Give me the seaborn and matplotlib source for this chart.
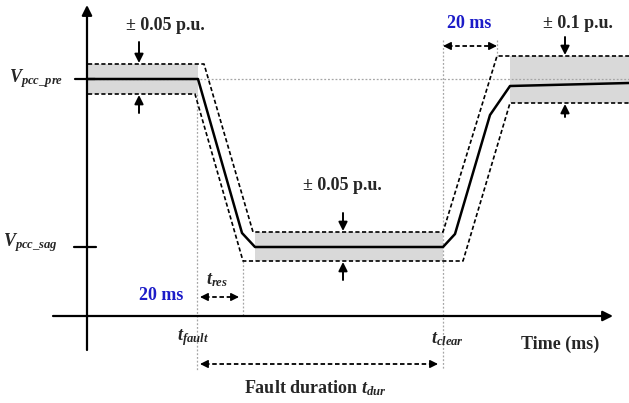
import matplotlib
matplotlib.use("Agg")
import matplotlib.pyplot as plt
import seaborn as sns
import numpy as np

# ---------------------------------------------------------
# schematic values (time units / voltage units, origin at axis crossing)
# ---------------------------------------------------------
t_main = [0, 111, 155, 168, 356, 368, 403, 423, 542]
v_main = [237, 237, 83, 69, 69, 82, 201, 230, 233]

t_upper = [1, 117, 166, 356, 410, 542]
v_upper = [252, 252, 84, 84, 260, 260]

t_lower = [1, 108, 156, 376, 423, 542]
v_lower = [222, 222, 55, 55, 213, 213]

# shaded tolerance bands: (t_start, t_end, v_low, v_high)
bands_t0 = [0, 168, 423]
bands_t1 = [111, 356, 542]
bands_lo = [222, 55, 213]
bands_hi = [252, 84, 260]

V_PRE = 237
V_SAG = 69
T_FAULT = 110
T_RES = 156
T_CLEAR = 356
T_REC = 410

sns.set_style("white")
plt.rcParams['font.family'] = ['Liberation Serif', 'DejaVu Serif']
plt.rcParams['mathtext.fontset'] = 'custom'
plt.rcParams['mathtext.it'] = 'Liberation Serif:italic:bold'
plt.rcParams['mathtext.rm'] = 'Liberation Serif:bold'
plt.rcParams['mathtext.bf'] = 'Liberation Serif:bold'

fig = plt.figure(figsize=(6.29, 4.03), dpi=100)
ax = fig.add_axes([0, 0, 1, 1])
ax.set_xlim(-87, 542)
ax.set_ylim(-87, 316)
ax.axis('off')

GREY = '#a6a6a6'
BLUE = '#1c1cc8'
dotted = (0, (1.5, 1.5))
dashed = (0, (2.5, 1.5))

# shaded bands
for a, b, lo, hi in zip(bands_t0, bands_t1, bands_lo, bands_hi):
    ax.fill_between([a, b], lo, hi, color='#d9d9d9', lw=0, zorder=1)

# grey dotted guides
ax.plot([8, 542], [V_PRE, V_PRE], color=GREY, lw=0.9, ls=dotted, zorder=2)
ax.plot([T_FAULT, T_FAULT], [222, -54], color=GREY, lw=0.9, ls=dotted, zorder=2)
ax.plot([T_RES, T_RES], [55, 0], color=GREY, lw=0.9, ls=dotted, zorder=2)
ax.plot([T_CLEAR, T_CLEAR], [276, -54], color=GREY, lw=0.9, ls=dotted, zorder=2)
ax.plot([T_REC, T_REC], [276, 260], color=GREY, lw=0.9, ls=dotted, zorder=2)

# envelopes
ax.plot(t_upper, v_upper, color='black', lw=1.2, ls=dashed, zorder=3)
ax.plot(t_lower, v_lower, color='black', lw=1.2, ls=dashed, zorder=3)

# main voltage trace
sns.lineplot(x=t_main, y=v_main, sort=False, estimator=None, color='black',
             lw=1.8, ax=ax, zorder=4)

# axes with arrowheads
ax.annotate('', xy=(0, 311), xytext=(0, -34),
            arrowprops=dict(arrowstyle='-|>', color='black', lw=1.6,
                            mutation_scale=15, shrinkA=0, shrinkB=0))
ax.annotate('', xy=(526, 0), xytext=(-34, 0),
            arrowprops=dict(arrowstyle='-|>', color='black', lw=1.6,
                            mutation_scale=15, shrinkA=0, shrinkB=0))
ax.plot([-12, 8], [V_PRE, V_PRE], color='black', lw=1.6)
ax.plot([-13, 9], [V_SAG, V_SAG], color='black', lw=1.6)


def small_arrow(x, y0, y1):
    ax.annotate('', xy=(x, y1), xytext=(x, y0),
                arrowprops=dict(arrowstyle='-|>', color='black', lw=1.4,
                                mutation_scale=13, shrinkA=0, shrinkB=0))


def double_dashed(x0, x1, y):
    ax.plot([x0 + 5, x1 - 5], [y, y], color='black', lw=1.3, ls=dashed)
    for xs, xe in [(x0 + 8, x0), (x1 - 8, x1)]:
        ax.annotate('', xy=(xe, y), xytext=(xs, y),
                    arrowprops=dict(arrowstyle='-|>', color='black', lw=1.0,
                                    mutation_scale=12, shrinkA=0, shrinkB=0))


# tolerance markers
small_arrow(52, 274, 253)
small_arrow(52, 203, 221)
small_arrow(256, 103, 85)
small_arrow(256, 36, 54)
small_arrow(478, 279, 261)
small_arrow(478, 199, 212)

# time spans
double_dashed(T_CLEAR, T_REC, 270)
double_dashed(113, 152, 19)
double_dashed(113, 351, -48)

fs = 13
ax.text(78, 290, '± 0.05 p.u.', ha='center', va='center', fontsize=fs, fontweight='bold')
ax.text(255, 131, '± 0.05 p.u.', ha='center', va='center', fontsize=fs, fontweight='bold')
ax.text(491, 292, '± 0.1 p.u.', ha='center', va='center', fontsize=fs, fontweight='bold')
ax.text(382, 293, '20 ms', ha='center', va='center', fontsize=fs, fontweight='bold', color=BLUE)
ax.text(74, 20, '20 ms', ha='center', va='center', fontsize=fs, fontweight='bold', color=BLUE)

ax.text(-24, V_PRE, r'$V_{pcc\_pre}$', ha='right', va='center', fontsize=fs)
ax.text(-29, V_SAG + 4, r'$V_{pcc\_sag}$', ha='right', va='center', fontsize=fs)
ax.text(130, 36, r'$t_{res}$', ha='center', va='center', fontsize=fs)
ax.text(106, -22, r'$t_{fault}$', ha='center', va='center', fontsize=fs)
ax.text(360, -23, r'$t_{clear}$', ha='center', va='center', fontsize=fs)
ax.text(473, -28, 'Time (ms)', ha='center', va='center', fontsize=fs, fontweight='bold')
ax.text(228, -72, r'Fault duration $t_{dur}$', ha='center', va='center',
        fontsize=fs, fontweight='bold')

plt.savefig('out.png', dpi=100)
